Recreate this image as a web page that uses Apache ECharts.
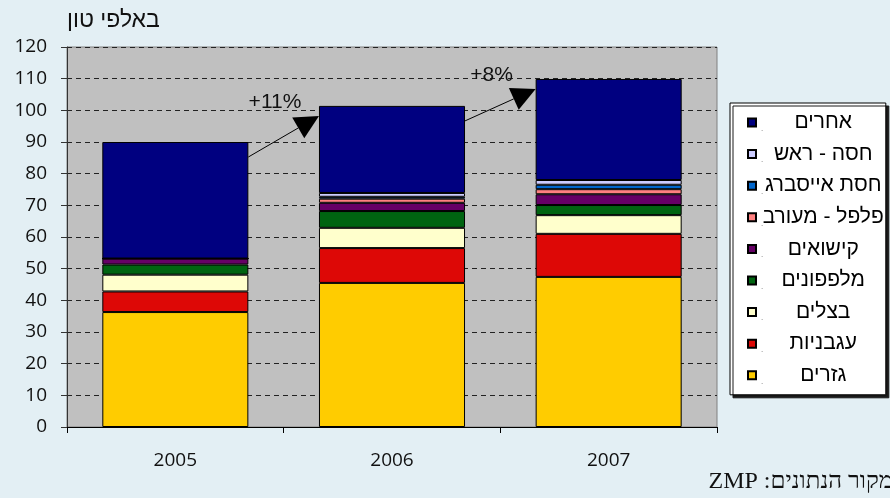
<!DOCTYPE html>
<html>
<head>
<meta charset="utf-8">
<script src="https://cdn.jsdelivr.net/npm/echarts@6/dist/echarts.min.js"></script>
<style>
  html, body { margin: 0; padding: 0; background: #e3eff4; }
  #chart { width: 890px; height: 498px; }
</style>
</head>
<body>
<div id="chart"></div>
<script>
// שנים
const years = ["2005", "2006", "2007"];

// ערכים לפי סוג ירק (אלפי טון)
const carrots = [36.3, 45.5, 47.4];
const tomatoes = [6.5, 11.0, 13.6];
const onions = [5.3, 6.4, 5.9];
const cabbageCuc = [3.2, 5.3, 3.2];
const zucchini = [1.9, 2.6, 3.4];
const pepper = [0, 1.3, 1.6];
const iceberg = [0, 0.6, 1.4];
const lettuce = [0, 1.2, 1.5];
const others = [36.8, 27.5, 31.9];

const seriesNames = ["גזרים", "עגבניות", "בצלים", "מלפפונים", "קישואים", "פלפל - מעורב", "חסת אייסברג", "חסה - ראש", "אחרים"];
const seriesValues = [carrots, tomatoes, onions, cabbageCuc, zucchini, pepper, iceberg, lettuce, others];
const seriesColors = ["#ffcc00", "#dd0806", "#ffffcc", "#006411", "#660066", "#ff8080", "#0066cc", "#ccccff", "#000080"];

// חצים של אחוז גידול
const growthFrom = [0, 1];
const growthTo = [1, 2];
const growthLabels = ["+11%", "+8%"];

const yTicks = { min: 0, max: 120, interval: 10 };

const totals = years.map((_, k) => seriesValues.reduce((s, arr) => s + arr[k], 0));

const chart = echarts.init(document.getElementById("chart"));

const BAR_RATIO = 0.674;

const barSeries = seriesNames.map((name, i) => ({
  name: name,
  type: "bar",
  stack: "total",
  barWidth: "67.4%",
  data: seriesValues[i],
  itemStyle: {
    color: seriesColors[i],
    borderColor: "#000",
    borderWidth: 1,
  },
}));

const arrowSeries = {
  type: "custom",
  silent: true,
  clip: false,
  z: 10,
  data: growthFrom.map((f, k) => [f, growthTo[k], k]),
  renderItem: (params, api) => {
    const i = api.value(0);
    const j = api.value(1);
    const k = api.value(2);
    const half = api.size([1, 0])[0] * BAR_RATIO / 2;
    const from = api.coord([i, totals[i]]);
    const to = api.coord([j, totals[j]]);
    const x0 = from[0] + half;
    const y0 = from[1] + 15;
    const x1 = to[0] - half;
    const y1 = to[1] + 10;
    const len = Math.hypot(x1 - x0, y1 - y0);
    const ux = (x1 - x0) / len;
    const uy = (y1 - y0) / len;
    const bx = x1 - 24 * ux;
    const by = y1 - 24 * uy;
    return {
      type: "group",
      children: [
        {
          type: "line",
          shape: { x1: x0, y1: y0, x2: bx, y2: by },
          style: { stroke: "#000", lineWidth: 1 },
        },
        {
          type: "polygon",
          shape: {
            points: [
              [x1, y1],
              [bx - 12 * uy, by + 12 * ux],
              [bx + 12 * uy, by - 12 * ux],
            ],
          },
          style: { fill: "#000" },
        },
        {
          type: "text",
          style: {
            x: x1 - 44,
            y: y1 - 14,
            text: growthLabels[k],
            align: "center",
            verticalAlign: "middle",
            fill: "#111",
            font: "21px 'Liberation Sans', sans-serif",
          },
        },
      ],
    };
  },
};

const option = {
  backgroundColor: "#e3eff4",
  animation: false,
  grid: {
    left: 67,
    right: 173,
    top: 47,
    bottom: 71,
    show: true,
    backgroundColor: "#c0c0c0",
    borderColor: "#808080",
    borderWidth: 1,
  },
  legend: {
    orient: "vertical",
    left: 730,
    top: 103,
    padding: [9, 2, 9, 17],
    itemGap: 10.6,
    itemWidth: 8,
    itemHeight: 8,
    icon: "rect",
    backgroundColor: "#fff",
    borderColor: "#000",
    borderWidth: 1,
    shadowColor: "#1a1a1a",
    shadowBlur: 0,
    shadowOffsetX: 3,
    shadowOffsetY: 3,
    data: seriesNames.slice().reverse(),
    formatter: (name) => "{d|.}{t|" + name + "}",
    textStyle: {
      color: "#000",
      rich: {
        d: { fontSize: 8, color: "#666", lineHeight: 20, verticalAlign: "bottom" },
        t: {
          width: 120,
          align: "center",
          fontSize: 21,
          lineHeight: 20,
          fontFamily: "'Liberation Sans', 'DejaVu Sans', sans-serif",
          color: "#000",
        },
      },
    },
  },
  xAxis: {
    type: "category",
    data: years,
    axisLine: { lineStyle: { color: "#000", width: 1 } },
    axisTick: { show: true, length: 6, lineStyle: { color: "#000" } },
    axisLabel: {
      margin: 24,
      fontSize: 19,
      color: "#111",
      fontFamily: "'Open Sans', sans-serif",
    },
  },
  yAxis: {
    type: "value",
    min: yTicks.min,
    max: yTicks.max,
    interval: yTicks.interval,
    name: "באלפי טון",
    nameLocation: "end",
    nameGap: 15,
    nameTextStyle: {
      align: "left",
      fontSize: 23,
      color: "#111",
      fontFamily: "'Liberation Sans', 'DejaVu Sans', sans-serif",
    },
    axisLine: { show: true, lineStyle: { color: "#333", width: 1 } },
    axisTick: { show: true, length: 6, lineStyle: { color: "#333" } },
    axisLabel: {
      margin: 20,
      fontSize: 19,
      color: "#111",
      fontFamily: "'Open Sans', sans-serif",
    },
    splitLine: {
      show: true,
      lineStyle: { color: "#222", width: 1, type: [5, 4] },
    },
  },
  graphic: [
    {
      type: "text",
      style: {
        x: 893,
        y: 482,
        text: "\u202Bמקור הנתונים: ZMP\u202C",
        align: "right",
        verticalAlign: "middle",
        fill: "#111",
        font: "24px 'Liberation Serif', 'DejaVu Serif', serif",
      },
    },
  ],
  series: [...barSeries, arrowSeries],
};

chart.setOption(option);
</script>
</body>
</html>
